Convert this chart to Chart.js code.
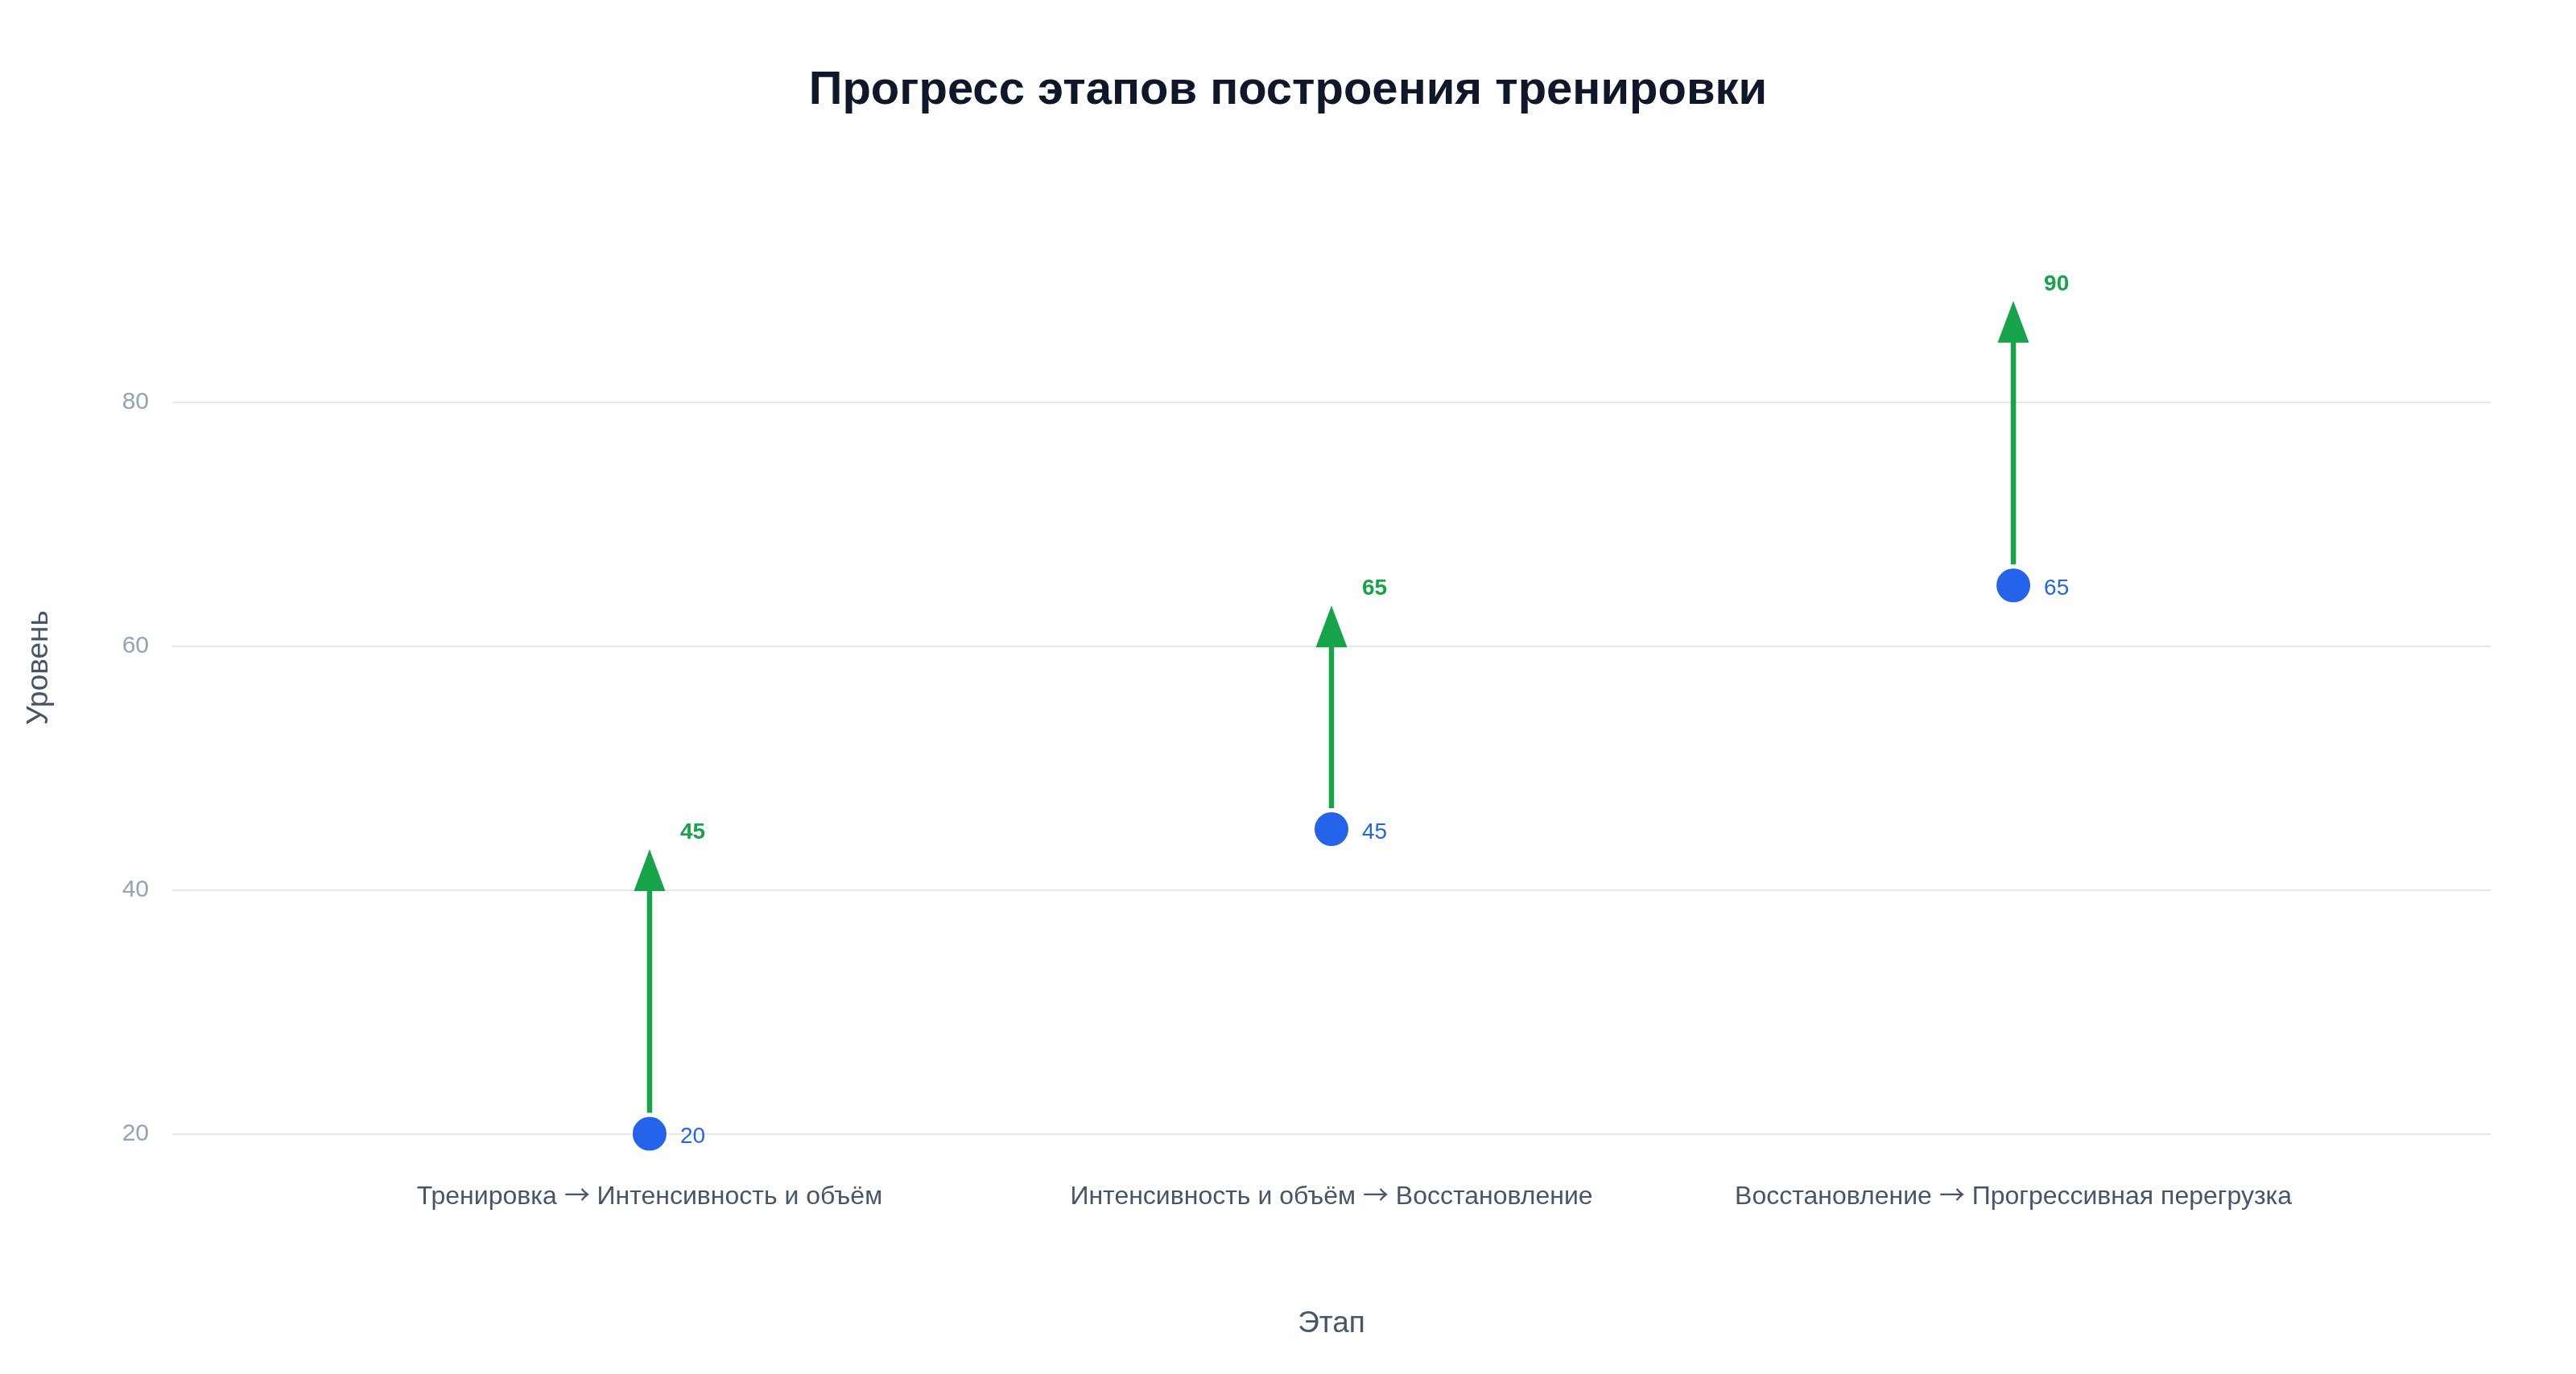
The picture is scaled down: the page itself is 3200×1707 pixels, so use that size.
<!DOCTYPE html>
<html lang="ru">
<head>
<meta charset="utf-8">
<title>Прогресс этапов построения тренировки</title>
<script src="https://cdn.jsdelivr.net/npm/chart.js@4.4.1/dist/chart.umd.min.js"></script>
<style>
    /* thin long arrow glyph from the CJK font, letters from Liberation Sans */
    @font-face {
        font-family: 'ArrowFix';
        src: local('Noto Sans CJK SC'), local('Noto Sans CJK SC Regular'), local('NotoSansCJKsc-Regular'), local('DejaVu Sans');
        unicode-range: U+2190-21FF;
    }
    html, body { margin: 0; padding: 0; background: #ffffff; }
    #wrap { width: 3200px; height: 1707px; position: relative; }
</style>
</head>
<body>
<div id="wrap"><canvas id="progressChart"></canvas></div>
<script>
// Chart data
const stages = [
    'Тренировка → Интенсивность и объём',
    'Интенсивность и объём → Восстановление',
    'Восстановление → Прогрессивная перегрузка'
];
const startLevels = [20, 45, 65];
const endLevels = [45, 65, 90];
const yTicks = [20, 40, 60, 80];
const chartTitle = 'Прогресс этапов построения тренировки';

const FONT = '"Liberation Sans", Arial, Helvetica, sans-serif';
const LABEL_FONT = 'ArrowFix, ' + FONT;
const BLUE = '#2563eb';
const GREEN = '#16a34a';

// Title centred on the whole canvas
const titlePlugin = {
    id: 'pageTitle',
    afterDraw(chart) {
        const ctx = chart.ctx;
        ctx.save();
        ctx.fillStyle = '#0f172a';
        ctx.font = 'bold 58px ' + FONT;
        ctx.textAlign = 'center';
        ctx.textBaseline = 'middle';
        ctx.fillText(chartTitle, chart.width / 2, 113);
        ctx.restore();
    }
};

// Arrows from start level to end level, plus value labels
const arrowPlugin = {
    id: 'stageArrows',
    beforeDatasetsDraw(chart) {
        const ctx = chart.ctx;
        const xs = chart.scales.x;
        const ys = chart.scales.y;
        const standoff = 25;
        const headLen = 52;
        const headHalf = 19.5;
        ctx.save();
        ctx.strokeStyle = GREEN;
        ctx.fillStyle = GREEN;
        ctx.lineWidth = 6.5;
        startLevels.forEach((start, i) => {
            const x = xs.getPixelForValue(i);
            const y0 = ys.getPixelForValue(start) - standoff - 1;
            const tip = ys.getPixelForValue(endLevels[i]) + standoff;
            ctx.beginPath();
            ctx.moveTo(x, y0);
            ctx.lineTo(x, tip + headLen - 2);
            ctx.stroke();
            ctx.beginPath();
            ctx.moveTo(x, tip);
            ctx.lineTo(x + headHalf, tip + headLen);
            ctx.lineTo(x - headHalf, tip + headLen);
            ctx.closePath();
            ctx.fill();
        });
        ctx.restore();
    },
    afterDatasetsDraw(chart) {
        const ctx = chart.ctx;
        const xs = chart.scales.x;
        const ys = chart.scales.y;
        ctx.save();
        ctx.textAlign = 'left';
        ctx.textBaseline = 'middle';
        startLevels.forEach((start, i) => {
            const x = xs.getPixelForValue(i) + 38;
            ctx.fillStyle = BLUE;
            ctx.font = '28px ' + FONT;
            ctx.fillText(String(start), x, ys.getPixelForValue(start) + 4);
            ctx.fillStyle = GREEN;
            ctx.font = 'bold 28px ' + FONT;
            ctx.fillText(String(endLevels[i]), x, ys.getPixelForValue(endLevels[i]) + 4);
        });
        ctx.restore();
    }
};

function buildChart() {
    const ctx = document.getElementById('progressChart').getContext('2d');
    new Chart(ctx, {
        type: 'scatter',
        data: {
            datasets: [{
                label: 'Начало',
                data: startLevels.map((v, i) => ({ x: i, y: v })),
                backgroundColor: BLUE,
                borderColor: '#ffffff',
                borderWidth: 2,
                pointRadius: 22,
                pointHoverRadius: 22
            }]
        },
        options: {
            responsive: true,
            maintainAspectRatio: false,
            animation: false,
            devicePixelRatio: 1,
            layout: {
                padding: { left: 0, right: 106, top: 205, bottom: 0 }
            },
            plugins: {
                legend: { display: false },
                tooltip: { enabled: false },
                title: { display: false }
            },
            scales: {
                x: {
                    type: 'linear',
                    min: -0.7,
                    max: 2.7,
                    afterFit(scale) { scale.height = 253; },
                    afterBuildTicks(scale) {
                        scale.ticks = stages.map((s, i) => ({ value: i }));
                    },
                    grid: { display: false, drawTicks: false },
                    border: { display: false },
                    ticks: {
                        color: '#475569',
                        font: { family: LABEL_FONT, size: 32 },
                        padding: 14,
                        maxRotation: 0,
                        autoSkip: false,
                        callback: (v) => stages[v] || ''
                    },
                    title: {
                        display: true,
                        text: 'Этап',
                        color: '#475569',
                        font: { family: FONT, size: 37 },
                        padding: { top: 0, bottom: 40 }
                    }
                },
                y: {
                    min: 17,
                    max: 99.5,
                    afterFit(scale) { scale.width = 214; },
                    afterBuildTicks(scale) {
                        scale.ticks = yTicks.map(v => ({ value: v }));
                    },
                    grid: { color: '#e2e8f0', lineWidth: 2, drawTicks: false },
                    border: { display: false },
                    ticks: {
                        color: '#94a3b8',
                        font: { family: FONT, size: 30 },
                        padding: 29
                    },
                    title: {
                        display: true,
                        text: 'Уровень',
                        color: '#475569',
                        font: { family: FONT, size: 37 },
                        padding: { top: 27, bottom: 0 }
                    }
                }
            }
        },
        plugins: [arrowPlugin, titlePlugin]
    });
}

document.fonts.load('32px ArrowFix', '→').then(buildChart, buildChart);
</script>
</body>
</html>
